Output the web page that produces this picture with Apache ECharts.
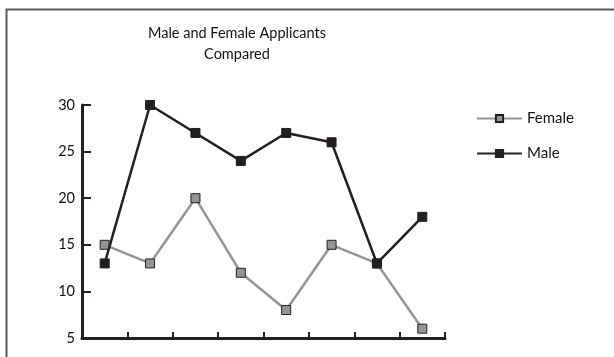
<!DOCTYPE html>
<html>
<head>
<meta charset="utf-8">
<script src="https://cdn.jsdelivr.net/npm/echarts@6/dist/echarts.min.js"></script>
<style>
  html, body { margin: 0; padding: 0; background: #fff; }
  #chart { width: 614px; height: 357px; }
</style>
</head>
<body>
<div id="chart"></div>
<script>
// Applicant counts per period, by sex
const categories = ['1', '2', '3', '4', '5', '6', '7', '8'];
const femaleValues = [15, 13, 20, 12, 8, 15, 13, 6];
const maleValues = [13, 30, 27, 24, 27, 26, 13, 18];
const yTicks = [5, 10, 15, 20, 25, 30];

const ink = '#231f20';
const grey = '#939598';
const font = 'Lato';

const chart = echarts.init(document.getElementById('chart'), null, { renderer: 'canvas' });

chart.setOption({
  animation: false,
  backgroundColor: '#ffffff',
  textStyle: { fontFamily: font },
  graphic: [{
    type: 'polyline',
    shape: { points: [[6.5, 400], [6.5, 9.5], [620, 9.5]] },
    style: { stroke: '#5a5a5a', lineWidth: 2, fill: null }
  }],
  title: {
    text: 'Male and Female Applicants\nCompared',
    left: 232,
    top: 18,
    textAlign: 'center',
    textStyle: { fontFamily: font, fontWeight: 'normal', fontSize: 14.5, color: '#111', lineHeight: 21 }
  },
  legend: {
    orient: 'vertical',
    left: 471,
    top: 106,
    itemWidth: 45,
    itemHeight: 9,
    itemGap: 20,
    textStyle: { fontFamily: font, fontSize: 15, color: '#111', padding: [0, 0, 0, 0] },
    data: ['Female', 'Male']
  },
  grid: { left: 82, right: 169, top: 105, bottom: 19, containLabel: false },
  xAxis: {
    type: 'category',
    data: categories,
    boundaryGap: true,
    axisLine: { lineStyle: { color: ink, width: 3 } },
    axisTick: { show: true, inside: true, length: 6, lineStyle: { color: ink, width: 2 } },
    axisLabel: { show: false },
    splitLine: { show: false }
  },
  yAxis: {
    type: 'value',
    min: yTicks[0],
    max: yTicks[yTicks.length - 1],
    interval: 5,
    axisLine: { show: true, lineStyle: { color: ink, width: 3 } },
    axisTick: { show: true, inside: true, length: 9, lineStyle: { color: ink, width: 2 } },
    axisLabel: { color: '#111', fontSize: 14.5, fontFamily: font, margin: 7 },
    splitLine: { show: false }
  },
  series: [
    {
      name: 'Female',
      type: 'line',
      data: femaleValues,
      symbol: 'rect',
      symbolSize: 9,
      lineStyle: { color: grey, width: 2.5 },
      itemStyle: { color: grey, borderColor: ink, borderWidth: 1 },
      z: 2
    },
    {
      name: 'Male',
      type: 'line',
      data: maleValues,
      symbol: 'rect',
      symbolSize: 9,
      lineStyle: { color: ink, width: 2.5 },
      itemStyle: { color: ink, borderColor: ink, borderWidth: 1 },
      z: 3
    }
  ]
});
</script>
</body>
</html>
